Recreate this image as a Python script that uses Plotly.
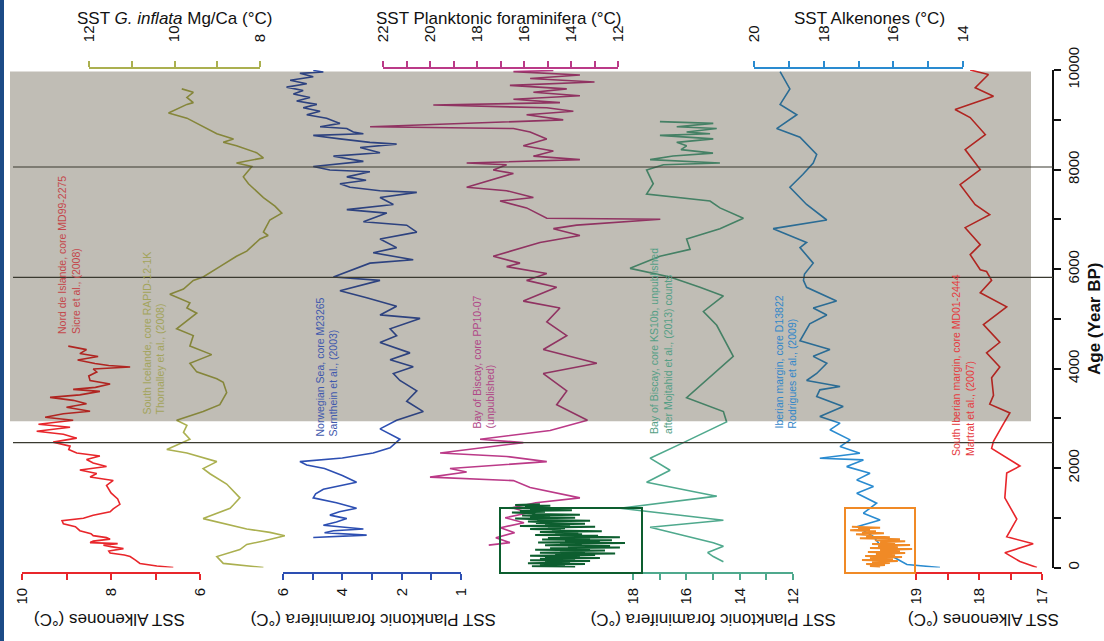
import plotly.graph_objects as go

W, H = 1104, 641

# ---------------- data (age in years BP, SST in degC) ----------------
# Nord de Islande, core MD99-2275 (Sicre et al., 2008) - alkenones
nord_age = [4450, 4380, 4300, 4240, 4170, 4100, 4060, 4030, 3990, 3930, 3850, 3760, 3690, 3620, 3580, 3540,
            3470, 3420, 3360, 3290, 3220, 3140, 3090, 3020, 2960, 2880, 2820, 2740, 2680, 2600, 2520, 2440,
            2370, 2300, 2240, 2170, 2100, 2030, 1960, 1890, 1820, 1750, 1650, 1500, 1380, 1270, 1180, 1120,
            1050, 990, 940, 880, 820, 740, 680, 640, 600, 570, 530, 500, 480, 450, 420, 380, 330, 290, 250,
            220, 150, 82, 30, 0]
nord_sst = [8.96, 8.55, 8.70, 8.29, 8.75, 8.36, 8.05, 7.57, 8.40, 8.32, 8.50, 8.47, 8.02, 8.35, 8.85, 8.25,
            8.70, 9.37, 8.85, 8.55, 9.00, 8.47, 9.07, 9.48, 8.85, 9.63, 8.92, 9.67, 9.07, 8.77, 9.30, 8.92,
            8.95, 8.77, 8.25, 8.55, 8.40, 8.10, 8.70, 8.32, 8.47, 7.95, 8.10, 8.00, 7.85, 7.80, 7.95, 8.02,
            8.40, 8.62, 9.10, 9.07, 8.80, 8.70, 8.45, 8.40, 8.10, 8.02, 8.40, 8.47, 7.85, 8.17, 8.00, 7.72,
            8.05, 8.02, 7.70, 7.57, 7.45, 7.35, 6.97, 6.60]

# South Icelande, core RAPID-12-1K (Thornalley et al., 2008) - G. inflata Mg/Ca
inflata_age = [9621, 9552, 9448, 9344, 9309, 9136, 9032, 8858, 8719, 8615, 8546, 8476, 8338, 8234, 8130, 8060,
               7852, 7713, 7436, 7262, 7124, 6985, 6742, 6673, 6603, 6360, 6256, 6048, 5840, 5771, 5597, 5493,
               5424, 5320, 5216, 5112, 4799, 4661, 4453, 4279, 4106, 3932, 3793, 3724, 3516, 3273, 3134, 2961,
               2857, 2718, 2579, 2371, 2302, 2128, 1989, 1885, 1677, 1400, 1261, 1191, 983, 845, 775, 706, 637,
               533, 463, 359, 220, 82, 0]
inflata_sst = [9.83, 9.56, 9.71, 9.56, 9.71, 10.14, 9.71, 9.33, 9.01, 8.62, 8.86, 8.55, 8.08, 7.92, 8.55, 8.19,
               8.39, 8.27, 7.92, 7.65, 7.49, 7.77, 7.92, 7.81, 8.00, 8.31, 8.55, 8.94, 9.33, 9.56, 9.79, 10.11,
               9.91, 9.64, 9.71, 9.48, 9.95, 9.56, 9.64, 9.13, 9.64, 9.48, 9.01, 8.86, 8.78, 8.94, 9.33, 9.95,
               9.71, 9.79, 9.64, 10.18, 9.71, 9.01, 9.33, 9.17, 8.78, 8.47, 8.62, 8.70, 9.33, 8.70, 8.31, 7.77,
               7.42, 7.92, 8.31, 8.47, 9.01, 8.86, 7.92]

# Norwegian Sea, core M23265 (Sarnthein et al., 2003) - planktonic foraminifera
norw_age = [9990, 9960, 9933, 9864, 9795, 9725, 9656, 9587, 9517, 9448, 9378, 9309, 9240, 9170, 9101, 9032,
            8927, 8858, 8823, 8754, 8719, 8685, 8615, 8546, 8511, 8442, 8338, 8268, 8164, 8060, 7991, 7956,
            7852, 7783, 7713, 7644, 7574, 7540, 7436, 7297, 7193, 7124, 6950, 6881, 6742, 6603, 6430, 6326,
            6187, 6118, 5840, 5771, 5563, 5424, 5250, 5077, 5007, 4799, 4661, 4522, 4314, 4175, 4036, 3898,
            3759, 3550, 3342, 3134, 2961, 2787, 2579, 2406, 2302, 2200, 2128, 2060, 1990, 1850, 1712, 1620,
            1573, 1480, 1400, 1300, 1191, 1120, 1053, 983, 914, 850, 810, 775, 740, 700, 650, 602]
norw_sst = [4.98, 4.64, 5.43, 4.98, 5.76, 5.20, 5.88, 5.32, 5.65, 5.09, 5.54, 4.86, 5.32, 4.75, 5.20, 4.53,
            4.08, 4.75, 3.85, 3.63, 3.29, 4.98, 4.08, 3.07, 2.17, 3.40, 2.73, 4.30, 3.29, 4.98, 4.42, 3.07,
            3.85, 3.20, 4.08, 3.74, 2.73, 1.49, 2.73, 2.28, 3.85, 2.50, 3.29, 1.83, 1.49, 2.73, 2.17, 2.96,
            1.61, 3.07, 4.30, 2.73, 4.08, 3.18, 2.17, 2.73, 1.38, 2.39, 2.17, 2.73, 1.72, 2.39, 1.61, 2.28,
            2.06, 1.49, 1.83, 1.27, 2.17, 2.73, 2.06, 2.39, 2.96, 4.00, 5.43, 5.20, 4.60, 4.00, 3.52, 4.30,
            4.64, 4.90, 4.98, 4.20, 3.52, 4.10, 4.42, 3.85, 4.20, 4.64, 4.00, 3.29, 4.30, 4.60, 3.18, 4.98]

# Bay of Biscay, core PP10-07 (unpublished) - planktonic foraminifera
pp10_age = [9990, 9968, 9899, 9829, 9760, 9691, 9621, 9552, 9482, 9413, 9344, 9295, 9240, 9170, 9101, 8997,
            8858, 8823, 8754, 8615, 8476, 8372, 8268, 8199, 8130, 8095, 7991, 7921, 7644, 7574, 7436, 7366,
            7228, 7020, 7000, 6881, 6811, 6673, 6534, 6256, 6118, 6048, 5910, 5771, 5632, 5355, 5216, 4938,
            4661, 4383, 4106, 3898, 3550, 3273, 2961, 2753, 2579, 2510, 2302, 2232, 2128, 1989, 1920, 1816,
            1747, 1608, 1400, 1300, 1200, 1100, 1000, 900, 800, 700, 600, 500, 450]
pp10_sst = [14.75, 16.45, 13.62, 15.74, 13.00, 16.60, 14.18, 15.60, 13.62, 16.45, 14.47, 19.86, 15.03, 13.90,
            15.89, 14.33, 22.55, 16.45, 15.74, 15.03, 16.03, 14.75, 15.60, 13.62, 18.44, 16.74, 17.31, 16.45,
            18.44, 16.74, 15.60, 17.02, 15.89, 15.03, 10.20, 13.76, 14.75, 13.62, 15.32, 17.31, 16.17, 16.74,
            15.03, 15.89, 14.61, 16.03, 14.47, 15.03, 14.18, 15.18, 12.90, 15.18, 14.18, 14.61, 13.30, 14.89,
            17.87, 16.03, 19.57, 16.74, 15.03, 19.15, 18.44, 20.00, 16.45, 15.74, 13.62, 15.50, 16.50, 15.80,
            16.80, 16.00, 17.00, 16.40, 17.20, 16.60, 17.50]

# Bay of Biscay, core KS10b (after Mojtahid et al., 2013 counts)
ks10_age = [8962, 8927, 8858, 8823, 8754, 8719, 8685, 8615, 8546, 8476, 8400, 8330, 8270, 8199, 8130, 8095,
            7991, 7850, 7713, 7505, 7366, 7228, 7020, 6811, 6603, 6395, 6256, 6013, 5840, 5632, 5459, 5146,
            4869, 4244, 3412, 3134, 2926, 2510, 2198, 1955, 1712, 1434, 1191, 949, 810, 498, 429, 300, 220, 116]
ks10_sst = [16.99, 14.99, 16.36, 14.86, 15.99, 15.11, 16.99, 14.99, 16.36, 15.99, 16.20, 15.00, 16.50, 17.36,
            14.74, 16.86, 17.49, 17.35, 17.24, 17.49, 15.11, 14.74, 13.86, 14.74, 15.99, 15.86, 16.99, 18.11,
            16.61, 15.49, 14.61, 15.36, 14.86, 14.24, 15.99, 14.61, 14.49, 16.11, 17.36, 16.61, 17.49, 14.86,
            18.49, 14.61, 17.36, 14.99, 14.61, 15.20, 14.99, 14.61]

# high-resolution record in the green box (same scale as KS10b)
box_g_age = [1270, 1255, 1240, 1225, 1210, 1195, 1180, 1165, 1150, 1135, 1120, 1105, 1090, 1075, 1060, 1045,
             1030, 1015, 1000, 985, 970, 955, 940, 925, 910, 895, 880, 865, 850, 835, 820, 805, 790, 775,
             760, 745, 730, 715, 700, 685, 670, 655, 640, 625, 610, 595, 580, 565, 550, 535, 520, 505, 490,
             475, 460, 445, 430, 415, 400, 385, 370, 355, 340, 325, 310, 295, 280, 265, 250, 235, 220, 205,
             190, 175, 160, 145, 130, 115, 100, 85, 70, 55, 40, 25, 10, 0]
box_g_sst = [21.49, 22.42, 21.10, 22.05, 21.19, 22.69, 21.40, 21.86, 20.29, 22.24, 21.30, 22.54, 21.80, 21.67,
             19.99, 22.16, 21.11, 21.86, 20.17, 22.42, 21.60, 21.49, 19.61, 21.94, 21.20, 21.64, 19.80, 21.30,
             20.36, 22.24, 19.42, 21.19, 20.55, 21.86, 20.70, 21.04, 19.17, 21.49, 20.05, 20.92, 19.91, 21.67,
             19.31, 20.74, 18.49, 21.19, 19.61, 21.41, 18.79, 20.55, 19.24, 21.56, 18.30, 20.74, 19.92, 21.30,
             18.86, 20.44, 18.49, 21.11, 19.61, 21.67, 19.05, 20.74, 19.80, 21.49, 18.67, 20.92, 19.42, 21.86,
             19.99, 21.30, 19.24, 21.49, 20.17, 21.86, 19.61, 21.30, 20.36, 21.94, 19.80, 21.49, 20.55, 21.79,
             20.17, 21.19]

# Iberian margin, core D13822 (Rodrigues et al., 2009) - alkenones
d138_age = [9968, 9621, 9309, 9101, 8823, 8650, 8303, 8130, 7900, 7644, 7297, 6985, 6811, 6534, 6430, 6118,
            5900, 5771, 5632, 5355, 5216, 5077, 4900, 4557, 4383, 4244, 4106, 3900, 3759, 3638, 3571, 3437,
            3235, 3034, 2901, 2767, 2565, 2431, 2298, 2197, 2163, 2028, 1895, 1761, 1626, 1493, 1292, 1091,
            956, 821, 620, 286, 60, 0]
d138_sst = [19.25, 18.97, 19.25, 18.77, 19.35, 18.68, 18.20, 18.30, 18.60, 18.97, 18.49, 17.91, 19.45, 18.49,
            18.68, 18.30, 18.55, 18.58, 18.49, 17.63, 18.30, 17.91, 18.40, 18.68, 17.82, 18.30, 17.91, 18.20,
            18.49, 17.53, 18.11, 18.20, 17.44, 18.11, 17.53, 17.82, 17.24, 17.53, 16.96, 18.11, 16.86, 17.34,
            16.67, 17.05, 16.57, 17.05, 16.48, 16.86, 16.38, 17.05, 16.57, 16.19, 15.61, 14.66]

# high-resolution record in the orange box (same scale as D13822)
box_o_age = [820, 800, 790, 770, 750, 730, 710, 690, 670, 650, 630, 610, 590, 570, 550, 530, 510, 490, 470,
             450, 430, 410, 390, 370, 350, 330, 310, 290, 270, 250, 230, 210, 190, 170, 150, 130, 110, 90, 70,
             50, 30, 10]
box_o_sst = [17.19, 16.38, 17.01, 16.67, 17.24, 16.50, 16.90, 16.27, 17.07, 16.61, 16.78, 16.10, 16.96, 15.81,
             16.53, 15.66, 16.38, 15.95, 16.61, 15.52, 16.44, 15.87, 16.67, 15.46, 16.38, 15.81, 16.73, 15.66,
             16.50, 15.95, 16.81, 15.75, 16.67, 16.01, 16.90, 15.87, 16.61, 16.10, 16.78, 16.24, 16.67, 16.38]

# South Iberian margin, core MD01-2444 (Martrat et al., 2007) - alkenones
md01_age = [10000, 9910, 9642, 9473, 9205, 9044, 8702, 8400, 7998, 7696, 7294, 7093, 6831, 6489, 6288, 5986,
            5949, 5771, 5522, 5238, 4882, 4527, 4314, 4030, 3816, 3461, 3283, 3106, 2893, 2537, 2395, 2040,
            1898, 1400, 974, 618, 476, 298, 120, 0]
md01_sst = [18.14, 17.85, 18.06, 17.77, 18.38, 18.14, 17.90, 18.22, 17.98, 18.30, 18.06, 17.83, 18.22, 17.98,
            18.14, 17.98, 17.88, 17.80, 17.98, 17.56, 17.93, 17.67, 17.88, 17.67, 17.80, 17.77, 17.83, 17.51,
            17.61, 17.77, 17.80, 17.35, 17.56, 17.59, 17.40, 17.56, 17.14, 17.59, 17.35, 17.08]

# horizontal reference lines and shaded interval (years BP)
event_ages = [8050, 5830, 2510]
shade_interval = [2940, 9970]

# tick labels
age_ticks = list(range(0, 10001, 1000))
age_ticktext = ["0", "", "2000", "", "4000", "", "6000", "", "8000", "", "10000"]
nord_ticks, nord_text = [10, 9, 8, 7, 6], ["10", "", "8", "", "6"]
inflata_ticks, inflata_text = [12, 11, 10, 9, 8], ["12", "", "10", "", "8"]
norw_ticks, norw_text = [6, 5, 4, 3, 2, 1, 0], ["6", "", "4", "", "2", "", "1"]
pp10_ticks = [22, 21, 20, 19, 18, 17, 16, 15, 14, 13, 12]
pp10_text = ["22", "", "20", "", "18", "", "16", "", "14", "", "12"]
ks10_ticks, ks10_text = [18, 17, 16, 15, 14, 13, 12], ["18", "", "16", "", "14", "", "12"]
d138_ticks, d138_text = [20, 19, 18, 17, 16, 15, 14], ["20", "", "18", "", "16", "", "14"]
md01_ticks, md01_text = [19, 18.5, 18, 17.5, 17], ["19", "", "18", "", "17"]

# ---------------- styling ----------------
RED = "#e8262b"
OLIVE = "#abb050"
NAVY = "#2d4fb2"
MAG = "#bb3a88"
TEAL = "#4fa98d"
SKY = "#2a8bd0"
DGREEN = "#0d5e2f"
ORANGE = "#f08a26"
FONT = "Liberation Sans, Arial, sans-serif"

Y_BOT, Y_TOP = 567.5, 70.0   # pixel rows of age 0 and 10000
AX_TOP, AX_BOT = 68.0, 573.0  # pixel rows of the temperature axes


def py(p):
    return (H - p) / H


def full_range(v0, v1, p0, p1):
    s = (v1 - v0) / (p1 - p0)
    return [v0 - p0 * s, v0 + (W - p0) * s]


axes = [
    dict(v=(10, 6), p=(22, 200), side="bottom", color=RED, tv=nord_ticks, tt=nord_text),
    dict(v=(12, 8), p=(89, 260), side="top", color=OLIVE, tv=inflata_ticks, tt=inflata_text),
    dict(v=(6, 0), p=(283, 461), side="bottom", color=NAVY, tv=norw_ticks, tt=norw_text),
    dict(v=(22, 12), p=(383, 618), side="top", color=MAG, tv=pp10_ticks, tt=pp10_text),
    dict(v=(18, 12), p=(633, 793), side="bottom", color=TEAL, tv=ks10_ticks, tt=ks10_text),
    dict(v=(20, 14), p=(754, 963), side="top", color=SKY, tv=d138_ticks, tt=d138_text),
    dict(v=(19, 17), p=(916, 1042), side="bottom", color=RED, tv=md01_ticks, tt=md01_text),
]

fig = go.Figure()
layout = dict(
    width=W, height=H, margin=dict(l=0, r=0, t=0, b=0, pad=0, autoexpand=False),
    paper_bgcolor="white", plot_bgcolor="rgba(0,0,0,0)",
    showlegend=False, font=dict(family=FONT, color="#111"),
)

n = len(axes)
for i, a in enumerate(axes):
    vis = "xaxis" if i == 0 else f"xaxis{i + 1}"
    dat = f"xaxis{i + 1 + n}"
    layout[vis] = dict(
        domain=[a["p"][0] / W, a["p"][1] / W], range=list(a["v"]), automargin=False,
        anchor="free", position=py(AX_TOP if a["side"] == "top" else AX_BOT), side=a["side"],
        showline=True, linecolor=a["color"], linewidth=1.6, mirror=False,
        ticks="outside", ticklen=6, tickwidth=1.6, tickcolor=a["color"],
        tickvals=a["tv"], ticktext=a["tt"], tickangle=-90,
        tickfont=dict(size=15, family=FONT, color="#111"),
        ticklabelstandoff=16 if a["side"] == "top" else 2,
        showgrid=False, zeroline=False, fixedrange=True,
    )
    layout[dat] = dict(domain=[0, 1], range=full_range(a["v"][0], a["v"][1], a["p"][0], a["p"][1]),
                       visible=False, automargin=False, anchor="free", position=0,
                       showgrid=False, zeroline=False)
    fig.add_trace(go.Scatter(x=[None], y=[None], xaxis=("x" if i == 0 else f"x{i + 1}"), yaxis="y",
                             mode="lines", hoverinfo="skip"))

layout["yaxis"] = dict(
    domain=[py(Y_BOT), py(Y_TOP)], range=[0, 10000], anchor="free", position=1053 / W, side="right",
    automargin=False,
    showline=True, linecolor="#111", linewidth=2, ticks="outside", ticklen=7, tickwidth=2, tickcolor="#111",
    tickvals=age_ticks, ticktext=age_ticktext, tickangle=-90, tickfont=dict(size=15, family=FONT, color="#111"),
    title=dict(text="<b>Age (Year BP)</b>", font=dict(size=17, family=FONT, color="#111"), standoff=6),
    showgrid=False, zeroline=False, fixedrange=True,
)


def add_series(k, ages, vals, color, width=1.6):
    fig.add_trace(go.Scatter(x=vals, y=ages, xaxis=f"x{k + 1 + n}", yaxis="y", mode="lines",
                             line=dict(color=color, width=width), hoverinfo="skip"))


add_series(0, nord_age, nord_sst, RED)
add_series(1, inflata_age, inflata_sst, OLIVE)
add_series(2, norw_age, norw_sst, NAVY)
add_series(3, pp10_age, pp10_sst, MAG)
add_series(4, ks10_age, ks10_sst, TEAL)
add_series(4, box_g_age, box_g_sst, DGREEN, 2.0)
add_series(5, d138_age, d138_sst, SKY)
add_series(5, box_o_age, box_o_sst, ORANGE, 2.0)
add_series(6, md01_age, md01_sst, RED)

shapes = [
    dict(type="rect", xref="paper", yref="paper", x0=0, x1=4 / W, y0=0, y1=1,
         fillcolor="#1c4b86", line=dict(width=0), layer="above"),
    dict(type="rect", xref="paper", yref="y", x0=10 / W, x1=1031 / W, y0=shade_interval[0], y1=shade_interval[1],
         fillcolor="rgba(45,38,10,0.30)", line=dict(width=0), layer="above"),
    dict(type="rect", xref="paper", yref="paper", x0=500 / W, x1=642 / W, y0=py(AX_BOT), y1=py(508),
         fillcolor="rgba(0,0,0,0)", line=dict(color=DGREEN, width=2), layer="above"),
    dict(type="rect", xref="paper", yref="paper", x0=845 / W, x1=915 / W, y0=py(AX_BOT), y1=py(508),
         fillcolor="rgba(0,0,0,0)", line=dict(color=ORANGE, width=2), layer="above"),
]
for ev in event_ages:
    shapes.append(dict(type="line", xref="paper", yref="y", x0=13 / W, x1=1053 / W, y0=ev, y1=ev,
                       line=dict(color="#3a3a30", width=1.2), layer="above"))
layout["shapes"] = shapes

ann = []
titles = [
    ("SST <i>G. inflata</i> Mg/Ca (°C)", 174, 18, 0),
    ("SST Planktonic foraminifera (°C)", 499, 18, 0),
    ("SST Alkenones (°C)", 869, 18, 0),
    ("SST Alkenones (°C)", 110, 620, 180),
    ("SST Planktonic foraminifera (°C)", 373, 620, 180),
    ("SST Planktonic foraminifera (°C)", 713, 620, 180),
    ("SST Alkenones (°C)", 984, 620, 180),
]
for t, x, y, ang in titles:
    ann.append(dict(text=t, x=x / W, y=py(y), xref="paper", yref="paper", showarrow=False,
                    xanchor="center", yanchor="middle", textangle=ang,
                    font=dict(size=17, family=FONT, color="#111")))

labels = [
    ("Nord de Islande, core MD99-2275<br>Sicre et al., (2008)", 69, 336, "#c4484c"),
    ("South Icelande, core RAPID-12-1K<br>Thornalley et al., (2008)", 153, 417, "#a3a45c"),
    ("Norwegian Sea, core M23265<br>Sarnthein et al., (2003)", 326, 439, "#3f59ad"),
    ("Bay of Biscay, core PP10-07<br>(unpublished)", 484, 431, "#b04888"),
    ("Bay of Biscay, core KS10b, unpublished<br>after Mojtahid et al., (2013) counts", 661, 436, "#559f86"),
    ("Iberian margin, core D13822<br>Rodrigues et al., (2009)", 786, 431, "#3287c9"),
    ("South Iberian margin, core MD01-2444<br>Martrat et al., (2007)", 963, 458, "#e53a3e"),
]
for t, x, y, c in labels:
    ann.append(dict(text=t, x=x / W, y=py(y), xref="paper", yref="paper", showarrow=False,
                    xanchor="center", yanchor="bottom", textangle=-90, align="left",
                    font=dict(size=10.5, family=FONT, color=c)))
layout["annotations"] = ann

fig.update_layout(**layout)
fig.write_html("out.html", config={"displayModeBar": False},
               post_script="document.body.style.margin='0';document.body.style.overflow='hidden';")
